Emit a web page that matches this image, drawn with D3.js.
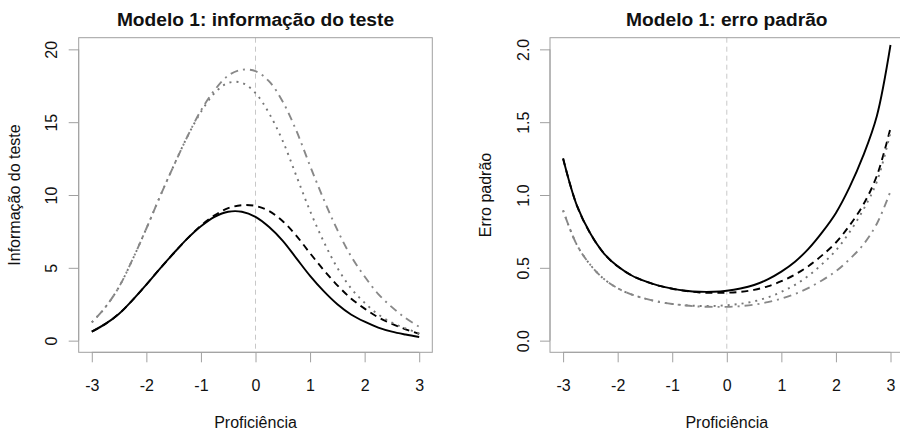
<!DOCTYPE html>
<html><head><meta charset="utf-8">
<script src="https://cdn.jsdelivr.net/npm/d3@7"></script>
<style>body{margin:0;background:#fff}svg{display:block}text{font-family:"Liberation Sans",Arial,sans-serif;fill:#111}</style>
</head><body>
<svg id="c" width="900" height="433"></svg>
<script>
const theta = [-3,-2.75,-2.5,-2.25,-2,-1.75,-1.5,-1.25,-1,-0.75,-0.5,-0.25,0,0.25,0.5,0.75,1,1.25,1.5,1.75,2,2.25,2.5,2.75,3];
// Left panel: test information
const infoSolid   = [0.62,1.15,1.85,2.8,3.85,4.95,6.0,7.0,7.85,8.5,8.85,8.85,8.5,7.8,6.85,5.65,4.45,3.4,2.5,1.8,1.3,0.9,0.62,0.42,0.25];
const infoDashed  = [0.62,1.15,1.85,2.8,3.85,4.95,6.0,7.0,7.9,8.6,9.1,9.3,9.25,8.9,8.2,7.2,6.0,4.85,3.8,2.9,2.2,1.6,1.15,0.78,0.47];
const infoDotted  = [1.25,2.3,3.7,5.6,7.7,9.9,12.0,14.0,15.7,17.0,17.7,17.7,17.0,15.6,13.7,11.3,8.9,6.8,5.0,3.6,2.6,1.8,1.24,0.84,0.5];
const infoDotDash = [1.25,2.3,3.7,5.6,7.7,9.9,12.0,14.0,15.8,17.2,18.2,18.6,18.5,17.8,16.4,14.4,12.0,9.7,7.6,5.8,4.4,3.2,2.3,1.55,0.95];
// Right panel: standard error
const seSolid   = [1.25,0.93,0.735,0.598,0.51,0.449,0.408,0.378,0.357,0.343,0.336,0.336,0.343,0.358,0.382,0.421,0.474,0.542,0.632,0.745,0.877,1.054,1.27,1.543,2.03];
const seDashed  = [1.25,0.93,0.735,0.598,0.51,0.449,0.408,0.378,0.356,0.341,0.331,0.328,0.329,0.335,0.349,0.373,0.408,0.454,0.513,0.587,0.674,0.791,0.933,1.132,1.46];
const seDotted  = [0.894,0.659,0.52,0.423,0.36,0.318,0.289,0.267,0.252,0.243,0.238,0.238,0.243,0.253,0.27,0.297,0.335,0.383,0.447,0.527,0.62,0.745,0.898,1.091,1.43];
const seDotDash = [0.894,0.659,0.52,0.423,0.36,0.318,0.289,0.267,0.252,0.241,0.234,0.232,0.232,0.237,0.247,0.264,0.289,0.321,0.363,0.415,0.477,0.559,0.659,0.803,1.026];

const xTicks = [-3,-2,-1,0,1,2,3];
const yTicksInfo = [0,5,10,15,20];
const yTicksSE = [0,0.5,1,1.5,2];

const styles = [
  {color:"#000", dash:null, w:1.9},
  {color:"#000", dash:"7,5", w:1.9},
  {color:"#777", dash:"2,5", w:1.9},
  {color:"#888", dash:"2,5,8,5", w:1.9}
];

const svg = d3.select("#c");
const axisColor = "#a0a0a0";

function panel(left, title, ylab, series, yDomain, yTicks, yFmt){
  const box = {l:left, r:left+353.6, t:37.7, b:352.3};
  const x = d3.scaleLinear().domain([-3,3]).range([box.l+0.04*(353.6/1.08), box.r-0.04*(353.6/1.08)]);
  const h = box.b-box.t;
  const y = d3.scaleLinear().domain(yDomain).range([box.b-0.04*(h/1.08), box.t+0.04*(h/1.08)]);
  const g = svg.append("g");
  g.append("line").attr("x1",x(0)).attr("x2",x(0)).attr("y1",box.t).attr("y2",box.b)
    .attr("stroke","#c8c8c8").attr("stroke-width",1).attr("stroke-dasharray","5,4");
  const line = d3.line().x((d,i)=>x(theta[i])).y(d=>y(d)).curve(d3.curveCatmullRom.alpha(0.5));
  series.forEach((s,i)=>{
    g.append("path").attr("d",line(s)).attr("fill","none")
      .attr("stroke",styles[i].color).attr("stroke-width",styles[i].w)
      .attr("stroke-dasharray",styles[i].dash);
  });
  g.append("rect").attr("x",box.l).attr("y",box.t).attr("width",box.r-box.l).attr("height",h)
    .attr("fill","none").attr("stroke",axisColor).attr("stroke-width",1);
  const xa = g.append("g").attr("transform",`translate(0,${box.b})`)
    .call(d3.axisBottom(x).tickValues(xTicks).tickSize(10).tickFormat(d => String(d)));
  xa.select(".domain").attr("stroke",axisColor).attr("d",`M${x(-3)},0H${x(3)}`);
  xa.selectAll(".tick line").attr("stroke",axisColor);
  xa.selectAll("text").attr("font-size",16).attr("fill","#111").attr("dy",null).attr("y",38.5);
  const ya = g.append("g").attr("transform",`translate(${box.l},0)`)
    .call(d3.axisLeft(y).tickValues(yTicks).tickSize(10).tickFormat(yFmt));
  ya.select(".domain").attr("stroke",axisColor).attr("d",`M0,${y(yTicks[0])}V${y(yTicks[yTicks.length-1])}`);
  ya.selectAll(".tick line").attr("stroke",axisColor);
  ya.selectAll(".tick text").attr("font-size",16).attr("fill","#111")
    .attr("x",null).attr("dy",null).attr("text-anchor","middle")
    .attr("transform","translate(-21.4,0) rotate(-90)");
  const cx = (box.l+box.r)/2;
  g.append("text").attr("x",cx).attr("y",25.5).attr("text-anchor","middle")
    .attr("font-size",19.2).attr("font-weight","bold").text(title);
  g.append("text").attr("x",cx).attr("y",428).attr("text-anchor","middle")
    .attr("font-size",16).text("Proficiência");
  g.append("text").attr("transform",`translate(${box.l-58.7},${(box.t+box.b)/2}) rotate(-90)`)
    .attr("text-anchor","middle").attr("font-size",16).text(ylab);
}

panel(78.7, "Modelo 1: informação do teste", "Informação do teste",
  [infoSolid, infoDashed, infoDotted, infoDotDash], [0,20], yTicksInfo, d => String(d));
panel(550, "Modelo 1: erro padrão", "Erro padrão",
  [seSolid, seDashed, seDotted, seDotDash], [0,2], yTicksSE, d3.format(".1f"));
</script>
</body></html>
